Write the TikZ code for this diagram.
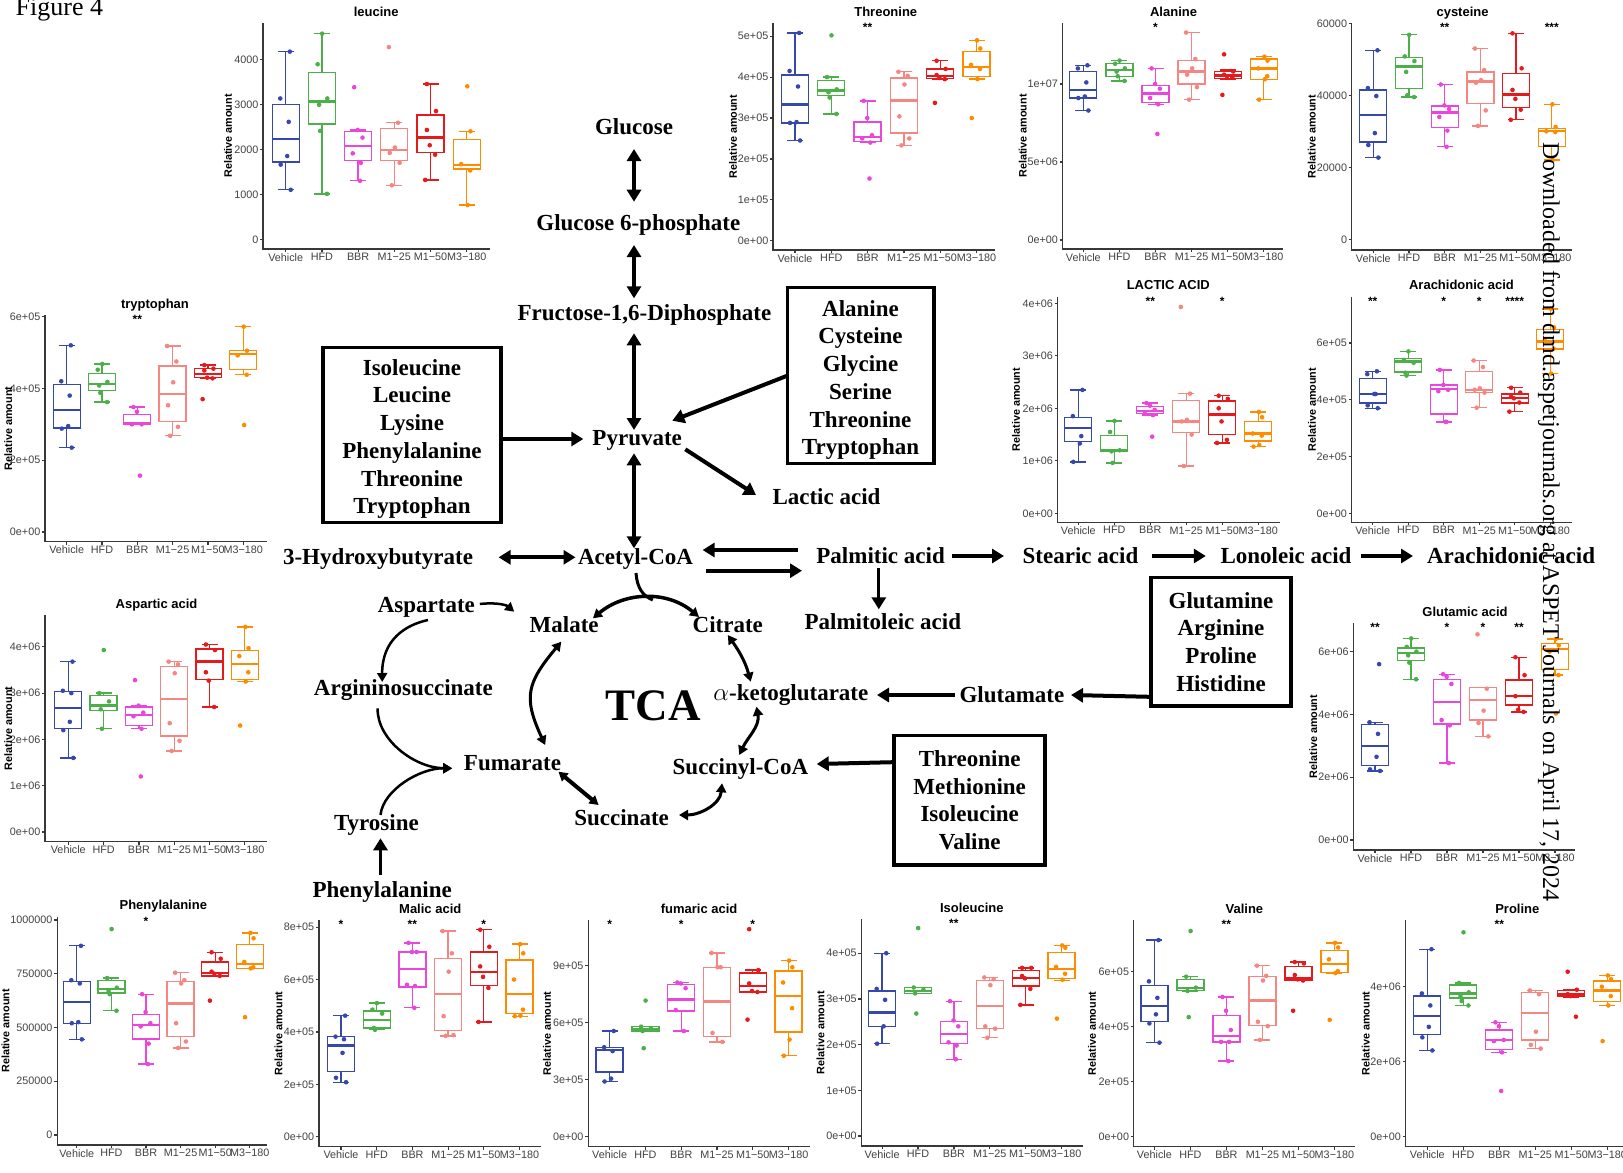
\documentclass[tikz,border=0pt]{standalone}
\usepackage{fontspec}
\setmainfont{Liberation Serif}
\newfontfamily\sansf{Liberation Sans}
\usetikzlibrary{arrows.meta,calc}
\definecolor{g0}{RGB}{55,72,172}
\definecolor{g1}{RGB}{77,175,74}
\definecolor{g2}{RGB}{235,70,220}
\definecolor{g3}{RGB}{245,135,130}
\definecolor{g4}{RGB}{228,26,28}
\definecolor{g5}{RGB}{255,140,0}
\tikzset{
 axl/.style={draw=black!78, line width=1.2pt},
 tkl/.style={font=\sansf\fontsize{10.8}{12}\selectfont, text=black!74, inner sep=0pt},
 ttl/.style={font=\sansf\bfseries\fontsize{13}{14}\selectfont, text height=9pt, text depth=2.5pt, inner sep=0pt},
 yll/.style={font=\sansf\bfseries\fontsize{10.8}{12}\selectfont, inner sep=0pt},
 stl/.style={font=\sansf\bfseries\fontsize{12}{12}\selectfont, inner sep=0pt},
 bxl/.style={line width=1.35pt},
 mdl/.style={line width=2.3pt},
 lab/.style={font=\bfseries\fontsize{23}{27.7}\selectfont, text height=16pt, text depth=5pt, inner sep=1pt},
 bxn/.style={draw, line width=3.5pt, font=\bfseries\fontsize{23}{27.7}\selectfont, align=center, inner sep=0pt},
 ar/.style={line width=4pt, -{Triangle[length=12pt,width=14pt]}},
 dar/.style={line width=4pt, {Triangle[length=12pt,width=14pt]}-{Triangle[length=12pt,width=14pt]}},
 car/.style={line width=2.5pt, -{Triangle[length=9pt,width=10pt]}},
 dcar/.style={line width=3pt, {Triangle[length=9pt,width=10pt]}-{Triangle[length=9pt,width=10pt]}},
}
\newcommand\SetPlot[8]{\def\Pxo{#1}\def\Pxe{#2}\def\Pyt{#3}\def\Pyb{#4}\def\Pzy{#5}\def\Pk{#6}\def\Pga{#7}\def\Pgs{#8}}
\newcommand\Frm[3]{%
 \draw[axl] (\Pxo,\Pyt) -- (\Pxo,\Pyb) -- (\Pxe,\Pyb);
 \foreach \v/\l in {#3}{%
   \draw[axl] (\Pxo-3,{\Pzy-\v*\Pk}) -- (\Pxo,{\Pzy-\v*\Pk});
   \node[tkl, anchor=east] at (\Pxo-4.5,{\Pzy-\v*\Pk}) {\l};}
 \foreach \l [count=\i from 0] in {Vehicle,HFD,BBR,M1−25,M1−50,M3−180}{%
   \draw[axl] ({\Pga+\i*\Pgs},\Pyb) -- ({\Pga+\i*\Pgs},\Pyb+3);
   \node[tkl, anchor=north] at ({\Pga+\i*\Pgs},\Pyb+4) {\l};}
 \node[ttl] at ({\Pga+2.5*\Pgs},\Pyt-10) {#1};
 \node[yll, rotate=90] at (#2,{(\Pyt+\Pyb)/2}) {Relative amount};
}
\newcommand\Stars[1]{\foreach \i/\s in {#1} \node[stl, anchor=north] at ({\Pga+\i*\Pgs},\Pyt) {\s};}
\newcommand\Bx[7]{%
 \pgfmathsetmacro\Pxc{\Pga+#1*\Pgs}%
 \draw[g#1, bxl] (\Pxc,{\Pzy-#2*\Pk}) -- (\Pxc,{\Pzy-#3*\Pk});
 \draw[g#1, bxl] (\Pxc,{\Pzy-#5*\Pk}) -- (\Pxc,{\Pzy-#6*\Pk});
 \draw[g#1, bxl] (\Pxc-8,{\Pzy-#2*\Pk}) -- (\Pxc+8,{\Pzy-#2*\Pk});
 \draw[g#1, bxl] (\Pxc-8,{\Pzy-#6*\Pk}) -- (\Pxc+8,{\Pzy-#6*\Pk});
 \draw[g#1, bxl] (\Pxc-13.5,{\Pzy-#3*\Pk}) rectangle (\Pxc+13.5,{\Pzy-#5*\Pk});
 \draw[g#1, mdl] (\Pxc-13.5,{\Pzy-#4*\Pk}) -- (\Pxc+13.5,{\Pzy-#4*\Pk});
 \foreach \v [count=\n] in {#7} \fill[g#1] ({\Pxc+5.5*sin(\n*131+#1*47)},{\Pzy-\v*\Pk}) circle (2.3pt);
}
\begin{document}
\begin{tikzpicture}[x=1pt,y=-1pt]
\fill[white] (0,0) rectangle (1623,1173);
\useasboundingbox (0,0) rectangle (1623,1173);
\node[font=\fontsize{26}{28}\selectfont, anchor=base west, inner sep=0] (fig) at (15.5,15) {Figure 4};

% ---- leucine
\SetPlot{263}{490}{23}{249}{239.3}{45}{285.7}{36.2}
\Frm{leucine}{228}{0/0,1/1000,2/2000,3/3000,4/4000}
\Bx{0}{1.10}{1.72}{2.23}{3.00}{4.17}{4.17,3.13,2.61,1.85,1.66,1.10}
\Bx{1}{1.01}{2.56}{3.06}{3.70}{4.57}{4.57,3.89,3.13,2.99,2.41,1.01}
\Bx{2}{1.30}{1.75}{2.08}{2.39}{2.43}{3.38,2.43,2.26,1.91,1.70,1.30}
\Bx{3}{1.20}{1.75}{1.99}{2.46}{2.59}{4.27,2.59,2.04,1.92,1.70,1.20}
\Bx{4}{1.32}{1.93}{2.26}{2.76}{3.45}{3.45,2.85,2.43,2.09,1.88,1.32}
\Bx{5}{0.76}{1.56}{1.65}{2.22}{2.40}{3.40,2.40,1.67,1.53,0.76}

% ---- Threonine
\SetPlot{773}{995}{23}{250}{240.7}{40.9}{795}{36.3}
\Frm{Threonine}{733}{0/0e+00,1/1e+05,2/2e+05,3/3e+05,4/4e+05,5/5e+05}
\Bx{0}{2.45}{2.88}{3.33}{4.05}{5.08}{5.08,4.15,3.77,2.90,2.88,2.45}
\Bx{1}{3.10}{3.55}{3.67}{3.92}{4.00}{5.02,4.00,3.70,3.63,3.50,3.10}
\Bx{2}{2.40}{2.42}{2.53}{2.90}{3.42}{3.42,3.00,2.58,2.50,2.40,1.52}
\Bx{3}{2.33}{2.63}{3.43}{3.98}{4.13}{4.13,4.03,3.82,3.04,2.50,2.33}
\Bx{4}{3.95}{3.97}{4.02}{4.20}{4.40}{4.40,4.20,4.05,3.98,3.95,3.37}
\Bx{5}{3.95}{4.01}{4.25}{4.62}{4.90}{4.90,4.70,4.30,4.20,3.95,3.00}
\Stars{2/**}

% ---- Alanine
\SetPlot{1062.7}{1283}{23}{249}{240}{15.6}{1083.3}{36.1}
\Frm{Alanine}{1022.7}{0/0e+00,5/5e+06,10/1e+07}
\Bx{0}{8.3}{9.1}{9.6}{10.8}{11.2}{11.2,11.0,10.1,9.2,9.1,8.3}
\Bx{1}{10.2}{10.5}{10.9}{11.3}{11.5}{11.5,11.3,11.0,10.8,10.5,10.2}
\Bx{2}{8.7}{8.8}{9.4}{9.9}{11.0}{11.0,10.0,9.7,9.1,8.7,6.8}
\Bx{3}{9.0}{10.0}{10.8}{11.5}{13.3}{13.3,11.6,11.0,10.6,9.8,9.0}
\Bx{4}{10.3}{10.35}{10.55}{10.8}{10.9}{11.9,10.8,10.6,10.5,10.4,9.3}
\Bx{5}{9.0}{10.3}{11.0}{11.6}{11.75}{11.75,11.5,11.0,10.5,10.3,9.0}
\Stars{2/*}

% ---- cysteine
\SetPlot{1351.7}{1572}{23}{250}{239.3}{36}{1373.3}{35.7}
\Frm{cysteine}{1311.7}{0/0,2/20000,4/40000,6/60000}
\Bx{0}{2.27}{2.70}{3.45}{4.15}{5.25}{5.25,4.20,3.98,2.95,2.62,2.27}
\Bx{1}{3.95}{4.18}{4.80}{5.05}{5.68}{5.68,5.08,4.95,4.65,4.00,3.95}
\Bx{2}{2.57}{3.10}{3.52}{3.70}{4.30}{4.30,3.72,3.62,3.40,3.02,2.57}
\Bx{3}{3.15}{3.78}{4.38}{4.65}{5.30}{5.30,4.70,4.42,4.35,3.58,3.15}
\Bx{4}{3.32}{3.67}{4.02}{4.60}{5.72}{5.72,4.75,4.15,3.90,3.60,3.32}
\Bx{5}{2.20}{2.58}{3.00}{3.08}{3.75}{3.75,3.12,3.00,2.98,2.20}
\Stars{2/**,5/***}

% ---- tryptophan
\SetPlot{45}{266.7}{315}{541.7}{532}{35.9}{66.7}{35.3}
\Frm{tryptophan}{8.3}{0/0e+00,2/2e+05,4/4e+05,6/6e+05}
\Bx{0}{2.35}{2.90}{3.40}{4.10}{5.20}{5.20,4.20,3.80,2.95,2.88,2.35}
\Bx{1}{3.62}{3.95}{4.12}{4.42}{4.68}{4.68,4.52,4.18,4.08,3.88,3.62}
\Bx{2}{3.00}{3.00}{3.02}{3.28}{3.48}{3.48,3.35,3.00,3.00,1.57}
\Bx{3}{2.68}{3.08}{3.85}{4.62}{5.18}{5.18,4.75,4.17,3.53,2.93,2.68}
\Bx{4}{4.28}{4.30}{4.40}{4.55}{4.65}{4.65,4.55,4.50,4.30,4.28,3.70}
\Bx{5}{4.38}{4.52}{4.95}{5.05}{5.72}{5.72,5.05,4.92,4.38,2.98}
\Stars{2/**}

% ---- LACTIC ACID
\SetPlot{1057.6}{1280}{296.7}{522.3}{513.3}{52.5}{1078.3}{36}
\Frm{LACTIC ACID}{1015.9}{0/0e+00,1/1e+06,2/2e+06,3/3e+06,4/4e+06}
\Bx{0}{0.98}{1.37}{1.63}{1.83}{2.35}{2.35,1.85,1.47,1.33,0.98}
\Bx{1}{0.96}{1.18}{1.20}{1.48}{1.76}{1.76,1.55,1.20,1.18,0.96}
\Bx{2}{1.87}{1.90}{1.95}{2.03}{2.10}{2.10,2.05,1.97,1.90,1.87,1.46}
\Bx{3}{0.90}{1.54}{1.75}{2.15}{2.28}{3.93,2.28,1.78,1.75,1.50,0.90}
\Bx{4}{1.34}{1.50}{1.88}{2.14}{2.24}{2.24,2.18,2.00,1.75,1.40,1.34}
\Bx{5}{1.27}{1.38}{1.52}{1.75}{1.93}{1.93,1.83,1.52,1.48,1.30,1.27}
\Stars{2/**,4/*}

% ---- Arachidonic acid
\SetPlot{1351.6}{1572}{296.7}{522.3}{513.3}{28.4}{1372.7}{35.5}
\Frm{Arachidonic acid}{1311.9}{0/0e+00,2/2e+05,4/4e+05,6/6e+05}
\Bx{0}{3.70}{3.88}{4.20}{4.75}{5.00}{5.00,4.90,4.20,4.20,3.80,3.70}
\Bx{1}{4.85}{4.98}{5.35}{5.45}{5.70}{5.70,5.40,5.30,4.95,4.85}
\Bx{2}{3.22}{3.50}{4.38}{4.52}{5.05}{5.05,4.52,4.35,4.30,3.22,3.22}
\Bx{3}{3.72}{4.25}{4.35}{5.00}{5.38}{5.38,5.15,4.40,4.35,4.25,3.72}
\Bx{4}{3.58}{3.88}{4.05}{4.20}{4.42}{4.42,4.25,4.10,4.05,3.90,3.58}
\Bx{5}{4.92}{5.78}{6.05}{6.48}{7.20}{7.20,6.55,6.10,5.80,4.92}
\Stars{0/**,2/*,3/*,4/****}

% ---- Aspartic acid
\SetPlot{45}{266.7}{615}{841.7}{832}{46.3}{68.3}{35.3}
\Frm{Aspartic acid}{8.3}{0/0e+00,1/1e+06,2/2e+06,3/3e+06,4/4e+06}
\Bx{0}{1.60}{2.23}{2.68}{3.03}{3.68}{3.68,3.05,3.00,2.38,2.20,1.60}
\Bx{1}{2.23}{2.63}{2.73}{2.95}{3.00}{3.93,3.00,2.82,2.65,2.23}
\Bx{2}{2.23}{2.30}{2.53}{2.70}{2.73}{3.28,2.73,2.58,2.50,2.23,1.20}
\Bx{3}{1.75}{2.07}{2.88}{3.58}{3.68}{3.68,3.62,3.43,2.35,1.97,1.75}
\Bx{4}{2.70}{3.30}{3.68}{3.95}{4.05}{4.05,3.93,3.45,3.27,2.70}
\Bx{5}{3.25}{3.30}{3.63}{3.92}{4.43}{4.43,3.97,3.80,3.45,3.25,2.30}

% ---- Glutamic acid
\SetPlot{1353.3}{1575}{623.3}{850}{840}{31.4}{1375}{36}
\Frm{Glutamic acid}{1313.3}{0/0e+00,2/2e+06,4/4e+06,6/6e+06}
\Bx{0}{2.20}{2.37}{3.00}{3.67}{3.75}{5.60,3.75,3.38,2.65,2.25,2.20}
\Bx{1}{5.12}{5.72}{5.95}{6.12}{6.42}{6.42,6.15,6.00,5.88,5.65,5.12}
\Bx{2}{2.45}{3.70}{4.40}{5.12}{5.28}{5.28,5.20,4.97,3.82,3.65,2.45}
\Bx{3}{3.30}{3.82}{4.45}{4.85}{4.85}{6.55,4.82,4.12,3.73,3.30}
\Bx{4}{4.08}{4.30}{4.58}{5.10}{5.82}{5.82,5.25,4.58,4.15,4.08}
\Bx{5}{5.25}{5.42}{6.08}{6.25}{6.40}{6.40,6.20,6.00,5.25,4.03}
\Stars{0/**,2/*,3/*,4/**}

% ---- Phenylalanine
\SetPlot{57.1}{267.1}{916.7}{1145}{1135}{21.5}{76.8}{34.6}
\Frm{Phenylalanine}{5.4}{0/0,2.5/250000,5/500000,7.5/750000,10/1000000}
\Bx{0}{4.45}{5.20}{6.18}{7.15}{8.80}{8.80,7.20,7.05,5.25,5.20,4.45}
\Bx{1}{5.78}{6.60}{6.80}{7.20}{7.30}{9.58,7.30,6.85,6.70,6.55,5.78}
\Bx{2}{3.30}{4.47}{5.12}{5.60}{6.55}{6.55,5.72,5.20,5.05,4.25,3.30}
\Bx{3}{4.05}{4.57}{6.12}{7.15}{7.55}{7.55,7.20,7.05,5.20,4.35,4.05}
\Bx{4}{7.40}{7.40}{7.55}{8.05}{8.50}{8.50,8.20,7.60,7.50,7.40,6.25}
\Bx{5}{7.75}{7.75}{7.95}{8.85}{9.40}{9.40,9.15,8.05,7.80,7.75,5.48}
\Stars{2/*}

% ---- Malic acid
\SetPlot{318.9}{541}{920}{1146.7}{1136.7}{26.2}{341}{35.7}
\Frm{Malic acid}{278.6}{0/0e+00,2/2e+05,4/4e+05,6/6e+05,8/8e+05}
\Bx{0}{2.08}{2.50}{3.48}{3.82}{4.62}{4.62,3.82,3.72,3.20,2.25,2.08}
\Bx{1}{4.08}{4.15}{4.45}{4.80}{5.10}{5.10,4.85,4.70,4.15,4.08}
\Bx{2}{4.92}{5.72}{6.40}{7.05}{7.40}{7.40,7.05,7.05,5.80,5.75,4.92}
\Bx{3}{3.85}{4.05}{5.45}{6.80}{7.85}{7.85,7.00,6.30,4.60,3.88,3.85}
\Bx{4}{4.38}{5.78}{6.30}{7.05}{7.90}{7.90,7.25,6.50,6.10,5.68,4.38}
\Bx{5}{4.60}{4.70}{5.45}{6.75}{7.35}{7.35,7.00,6.00,4.85,4.62,4.60}
\Stars{0/*,2/**,4/*}

% ---- fumaric acid
\SetPlot{588.2}{809.6}{920}{1146.7}{1136.7}{19.04}{609.6}{35.8}
\Frm{fumaric acid}{547.1}{0/0e+00,3/3e+05,6/6e+05,9/9e+05}
\Bx{0}{2.90}{3.40}{4.55}{4.68}{5.55}{5.55,4.70,4.50,3.05,2.90}
\Bx{1}{5.55}{5.55}{5.65}{5.78}{5.78}{7.15,5.78,5.70,5.55,4.65}
\Bx{2}{5.55}{6.60}{7.20}{7.98}{8.10}{8.10,8.05,7.80,6.65,5.55}
\Bx{3}{4.98}{5.25}{7.10}{8.90}{9.65}{9.65,8.90,8.90,5.45,4.98}
\Bx{4}{7.60}{7.60}{7.90}{8.60}{8.75}{10.90,8.75,8.05,7.65,7.60,6.15}
\Bx{5}{4.25}{5.50}{7.40}{8.70}{9.25}{9.25,8.90,8.10,6.75,5.10,4.25}
\Stars{0/*,2/*,4/*}

% ---- Isoleucine
\SetPlot{861.4}{1082.9}{919.3}{1146}{1136}{45.7}{882.1}{35.9}
\Frm{Isoleucine}{820.4}{0/0e+00,1/1e+05,2/2e+05,3/3e+05,4/4e+05}
\Bx{0}{2.02}{2.40}{2.70}{3.17}{4.00}{4.00,3.22,2.98,2.40,2.02}
\Bx{1}{3.12}{3.12}{3.17}{3.25}{3.25}{4.55,3.25,3.20,3.12,2.68}
\Bx{2}{1.68}{2.02}{2.23}{2.50}{2.95}{2.95,2.53,2.40,2.05,1.98,1.68}
\Bx{3}{2.15}{2.35}{2.85}{3.40}{3.47}{3.47,3.43,3.30,2.40,2.35,2.15}
\Bx{4}{2.87}{3.28}{3.45}{3.62}{3.68}{3.68,3.68,3.50,3.45,3.22,2.87}
\Bx{5}{3.40}{3.45}{3.65}{4.02}{4.17}{4.17,4.12,3.70,3.55,3.42,2.57}
\Stars{2/**}

% ---- Valine
\SetPlot{1133.7}{1355.3}{920}{1146.7}{1136.7}{27.5}{1154.4}{36}
\Frm{Valine}{1092.1}{0/0e+00,2/2e+05,4/4e+05,6/6e+05}
\Bx{0}{3.42}{4.18}{4.75}{5.50}{7.15}{7.15,5.65,5.05,4.45,4.12,3.42}
\Bx{1}{5.28}{5.32}{5.42}{5.72}{5.82}{7.48,5.82,5.42,5.30,4.35}
\Bx{2}{2.75}{3.45}{3.65}{4.40}{5.08}{5.08,4.58,3.88,3.45,3.45,2.75}
\Bx{3}{3.52}{4.05}{4.95}{5.82}{6.22}{6.22,5.85,5.68,4.18,4.02,3.52}
\Bx{4}{5.68}{5.70}{5.78}{6.18}{6.35}{6.35,6.30,5.88,5.72,5.68,4.58}
\Bx{5}{5.95}{5.98}{6.28}{6.78}{7.05}{7.05,6.88,6.45,6.02,5.95,4.25}
\Stars{2/**}

% ---- Proline
\SetPlot{1405.5}{1640}{920}{1146.7}{1136.7}{37.5}{1427.3}{36}
\Frm{Proline}{1365.7}{0/0e+00,2/2e+06,4/4e+06}
\Bx{0}{2.30}{2.72}{3.22}{3.75}{5.00}{5.00,3.82,3.50,2.93,2.65,2.30}
\Bx{1}{3.50}{3.70}{3.82}{4.05}{4.10}{5.45,4.10,3.85,3.75,3.62,3.50}
\Bx{2}{2.25}{2.32}{2.58}{2.85}{3.05}{3.05,2.95,2.58,2.55,2.25,1.22}
\Bx{3}{2.35}{2.58}{3.30}{3.85}{3.90}{3.90,3.80,2.80,2.45,2.35}
\Bx{4}{3.72}{3.75}{3.80}{3.90}{3.92}{4.40,3.92,3.80,3.75,3.20}
\Bx{5}{3.50}{3.60}{3.90}{4.15}{4.30}{4.30,4.20,4.00,3.75,3.50,2.55}
\Stars{2/**}

% ================= pathway =================
\node[lab] (glc) at (634,128.7) {Glucose};
\node[lab] (g6p) at (638.3,225.3) {Glucose 6-phosphate};
\node[lab] (f16) at (644.5,314.7) {Fructose-1,6-Diphosphate};
\node[lab] (pyr) at (637.2,440.3) {Pyruvate};
\node[lab] (acoa) at (635.6,558.7) {Acetyl-CoA};
\node[lab] (lac) at (826.5,498.7) {Lactic acid};
\node[lab] (hb) at (378,559.3) {3-Hydroxybutyrate};
\node[lab] (palm) at (880.6,558) {Palmitic acid};
\node[lab] (ste) at (1080.5,558) {Stearic acid};
\node[lab] (lon) at (1286,558) {Lonoleic acid};
\node[lab] (ara) at (1511,558) {Arachidonic acid};
\node[lab] (pole) at (882.8,623.7) {Palmitoleic acid};
\node[lab] (asp) at (426.4,607) {Aspartate};
\node[lab] (mal) at (564.2,627) {Malate};
\node[lab] (cit) at (727.8,627) {Citrate};
\node[lab] (agn) at (403.4,690.3) {Argininosuccinate};
\node[font=\bfseries\fontsize{45}{50}\selectfont, text height=30pt, text depth=0pt, inner sep=0pt] (tca) at (653.2,705) {TCA};
\node[lab] (akg) at (790.9,695.3) {$\alpha$-ketoglutarate};
\node[lab] (glu) at (1011.9,697) {Glutamate};
\node[lab] (fum) at (512.5,765.3) {Fumarate};
\node[lab] (scoa) at (740.4,768.7) {Succinyl-CoA};
\node[lab] (suc) at (621.6,820.3) {Succinate};
\node[lab] (tyr) at (376.4,825.3) {Tyrosine};
\node[lab] (phe) at (382.2,892) {Phenylalanine};

\node[bxn, minimum width=178pt, minimum height=175.4pt] (box1) at (412,435) {\rule{0pt}{24pt}Isoleucine\\Leucine\\Lysine\\Phenylalanine\\Threonine\\Tryptophan};
\node[bxn, minimum width=146.5pt, minimum height=175.6pt] (box2) at (860.5,375.5) {\rule{0pt}{25pt}Alanine\\Cysteine\\Glycine\\Serine\\Threonine\\Tryptophan};
\node[bxn, minimum width=139.7pt, minimum height=128.5pt] (box3) at (1221,641.8) {Glutamine\\Arginine\\Proline\\Histidine};
\node[bxn, minimum width=151pt, minimum height=129.3pt] (box4) at (969.7,800.3) {Threonine\\Methionine\\Isoleucine\\Valine};

% straight connectors
\draw[dar] ($(glc)+(0,20.3)$) -- ($(g6p)+(-4.3,-23.6)$);
\draw[dar] ($(g6p)+(-4.3,19.7)$) -- ($(f16)+(-10.5,-16.4)$);
\draw[dar] ($(f16)+(-10.5,18.6)$) -- ($(pyr)+(-3.2,-10.3)$);
\draw[dar] ($(pyr)+(-3.2,13)$) -- ($(acoa)+(-1.6,-10.4)$);
\draw[ar] ($(box1.east)+(0,4)$) -- ($(pyr)+(-53.9,-1.3)$);
\draw[ar] ($(box2.west)+(1,0.5)$) -- ($(pyr)+(35.1,-19.6)$);
\draw[ar] ($(pyr)+(48.1,9)$) -- ($(lac)+(-70.5,-3.7)$);
\draw[dar] ($(hb)+(120.6,-2)$) -- ($(acoa)+(-60.1,-1.4)$);
\draw[ar] ($(palm)+(-82.8,-8)$) -- ($(acoa)+(67,-8.7)$);
\draw[ar] ($(acoa)+(70.7,12)$) -- ($(palm)+(-78.6,12.7)$);
\draw[ar] ($(palm)+(71.4,-2)$) -- ($(ste)+(-76.5,-2)$);
\draw[ar] ($(ste)+(71.5,-2)$) -- ($(lon)+(-80.2,-2)$);
\draw[ar] ($(lon)+(75,-2)$) -- ($(ara)+(-98,-2)$);
\draw[ar, line width=3pt] ($(palm)+(-1.8,10.3)$) -- ($(pole)+(-4,-14.4)$);
\draw[ar] ($(glu)+(-57.4,-2)$) -- ($(akg)+(86.1,-0.3)$);
\draw[ar] ($(box3.south west)+(0,-11)$) -- ($(glu)+(59.1,-2)$);
\draw[ar] ($(box4.north west)+(0,28.3)$) -- ($(scoa)+(76.3,-4.7)$);
\draw[ar, line width=3pt] ($(phe)+(-1.7,-17)$) -- ($(tyr)+(4.1,13)$);

% curved connectors
\draw[car] ($(asp)+(53.4,-3)$) .. controls (492,602.5) and (505,604) .. ($(mal)+(-50,-15.3)$);
\draw[car] ($(asp)+(1.6,13)$) .. controls (405,625) and (382,640) .. ($(agn)+(-21.2,-8.3)$);
\draw[car] ($(agn)+(-25.8,18)$) .. controls (377,740) and (415,768) .. ($(fum)+(-60.3,3)$);
\draw[car] ($(tyr)+(4.1,-10.3)$) .. controls (383,790) and (420,768) .. ($(fum)+(-60.3,3)$);

% TCA cycle
\draw[line width=3pt] ($(acoa)+(0.4,14.3)$) .. controls (637,588) and (643,596) .. ($(cit)+(-75,-27)$);
\draw[dcar, line width=3.5pt] ($(mal)+(28.7,-8.7)$) .. controls (624.7,591.6) and (667.2,590.3) .. ($(cit)+(-28.8,-10)$);
\draw[dcar] ($(mal)+(-2.9,14.7)$) .. controls (527.2,682.6) and (522.8,697) .. ($(fum)+(32.7,-20.3)$);
\draw[dcar] ($(cit)+(0,8)$) .. controls (739.5,651.7) and (745.4,662) .. ($(akg)+(-40.2,-13.6)$);
\draw[dcar] ($(akg)+(-34.4,11.4)$) .. controls (760,726.4) and (747.8,736.9) .. ($(scoa)+(-1.1,-13.7)$);
\draw[dcar] ($(scoa)+(-18.4,14.6)$) .. controls (720.2,804.2) and (700,815) .. ($(suc)+(57.4,-5.3)$);
\draw[dcar, line width=4pt] ($(suc)+(-23,-15.3)$) -- ($(fum)+(45.9,6.4)$);

% watermark
\node[rotate=-90, anchor=west, font=\fontsize{24}{26}\selectfont, inner sep=0pt] (wm) at (1549,142) {Downloaded from dmd.aspetjournals.org at ASPET Journals on April 17, 2024};
\end{tikzpicture}
\end{document}
